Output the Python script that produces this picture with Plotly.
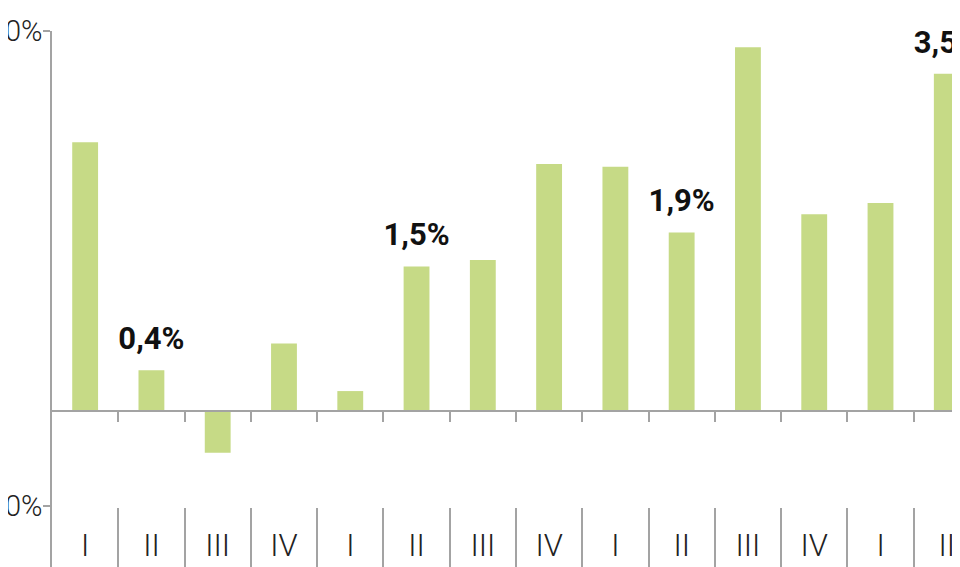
import plotly.graph_objects as go

# Variation trimestrielle (%), quatre trimestres par an
trimestres = ["I", "II", "III", "IV", "I", "II", "III", "IV", "I", "II", "III", "IV", "I", "II"]
valeurs = [2.83, 0.43, -0.44, 0.71, 0.21, 1.52, 1.59, 2.60, 2.57, 1.88, 3.83, 2.07, 2.19, 3.55]
etiquettes = ["", "0,4%", "", "", "", "1,5%", "", "", "", "1,9%", "", "", "", "3,5%"]
ytick_vals = [-1, 4]
ytick_text = ["-1,0%", "4,0%"]

positions = list(range(len(trimestres)))
limites = [p + 0.5 for p in positions[:-1]]

police = "Roboto, Noto Sans, sans-serif"
vert = "#c6da86"
gris = "#a3a3a3"

# la page ajoute une marge de 8 px autour de la figure
y_min, y_max = -1.726, 4.0
pos_zero = (0 - y_min) / (y_max - y_min)

fig = go.Figure()

fig.add_trace(go.Bar(
    x=positions, y=valeurs, width=0.39,
    marker=dict(color=vert, line=dict(width=0)),
    hoverinfo="skip",
))

# étiquettes au-dessus des barres (marqueur invisible pour décaler le texte)
fig.add_trace(go.Scatter(
    x=positions, y=[max(v, 0) for v in valeurs], text=etiquettes,
    mode="markers+text", textposition="top center",
    marker=dict(size=20, opacity=0),
    textfont=dict(family=police, size=31, color="#111111", weight="bold"),
    cliponaxis=False, hoverinfo="skip",
))

# axes secondaires (séparateurs et libellés de trimestre)
fig.add_trace(go.Scatter(x=[None], y=[None], xaxis="x2", hoverinfo="skip"))
fig.add_trace(go.Scatter(x=[None], y=[None], xaxis="x3", hoverinfo="skip"))

fig.update_layout(
    width=960, height=567,
    margin=dict(l=44, r=0, t=23, b=0),
    plot_bgcolor="white", paper_bgcolor="white",
    showlegend=False,
    xaxis=dict(
        range=[-0.5, 13.32], anchor="free", position=pos_zero, automargin=False,
        showline=True, linecolor=gris, linewidth=1.5,
        ticks="outside", ticklen=10, tickcolor=gris, tickwidth=1.5,
        tickvals=limites, showticklabels=False, showgrid=False, zeroline=False,
    ),
    xaxis2=dict(
        overlaying="x", matches="x", anchor="y", side="bottom", automargin=False,
        ticks="inside", ticklen=67, tickcolor=gris, tickwidth=1.5,
        tickvals=limites, showticklabels=False, showgrid=False, zeroline=False, showline=False,
    ),
    xaxis3=dict(
        overlaying="x", matches="x", anchor="free", position=0.094, side="bottom",
        automargin=False, ticks="", tickvals=positions, ticktext=trimestres,
        showgrid=False, zeroline=False, showline=False,
        tickfont=dict(family=police, size=31, color="#222222", weight=300),
    ),
    yaxis=dict(
        range=[y_min, y_max], tickvals=ytick_vals, ticktext=ytick_text, automargin=False,
        showline=True, linecolor=gris, linewidth=1.5,
        ticks="outside", ticklen=7, tickcolor=gris, tickwidth=1.5,
        ticklabelstandoff=-5,
        showgrid=False, zeroline=False,
        tickfont=dict(family=police, size=29, color="#222222", weight=300),
    ),
)

fig.write_html("out.html")
